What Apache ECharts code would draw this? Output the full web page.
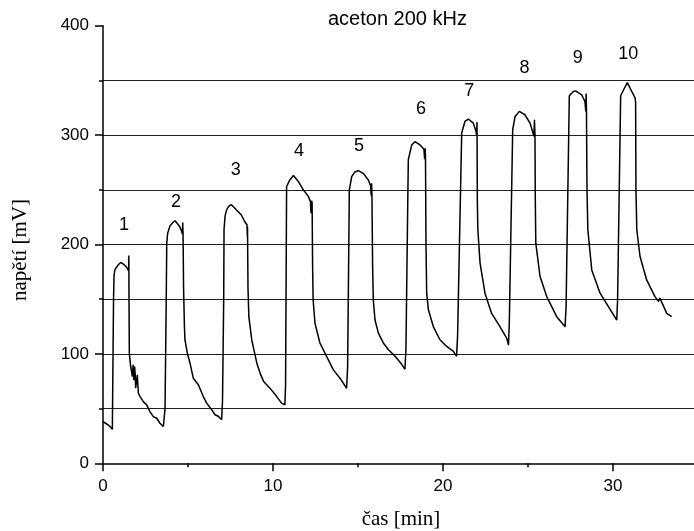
<!DOCTYPE html>
<html>
<head>
<meta charset="utf-8">
<title>aceton 200 kHz</title>
<script src="https://cdn.jsdelivr.net/npm/echarts@6/dist/echarts.min.js"></script>
<style>
  html, body { margin: 0; padding: 0; background: #fff; }
  #chart { width: 694px; height: 531px; }
</style>
</head>
<body>
<div id="chart"></div>
<script>
// Sensor voltage trace (time in minutes, voltage in mV)
const timeMin = [
  0.00, 0.06, 0.31, 0.45, 0.55, 0.58,
  0.62, 0.65, 0.70, 0.90, 1.04, 1.24, 1.40, 1.49, 1.51,
  1.52, 1.53, 1.55, 1.63, 1.73, 1.76, 1.78, 1.81, 1.86, 1.90, 1.92, 1.98, 2.02, 2.05, 2.08, 2.18, 2.37, 2.57, 2.76, 2.96, 3.16, 3.35, 3.55, 3.61,
  3.63, 3.65, 3.68,
  3.72, 3.75, 3.80, 3.94, 4.10, 4.24, 4.35, 4.49, 4.63, 4.67, 4.69, 4.71,
  4.74, 4.79, 4.82, 4.96, 5.12, 5.31, 5.45, 5.61, 5.90, 6.10, 6.39, 6.59, 6.78, 6.98, 7.02,
  7.03, 7.07,
  7.10, 7.12, 7.18, 7.27, 7.40, 7.55, 7.70, 7.84, 8.14, 8.33, 8.47, 8.49, 8.50,
  8.53, 8.58, 8.75, 9.05, 9.25, 9.45, 9.82, 10.22, 10.50, 10.70,
  10.72, 10.74, 10.76,
  10.80, 10.99, 11.20, 11.24, 11.49, 11.78, 12.08, 12.20, 12.24, 12.27, 12.30,
  12.33, 12.36, 12.47, 12.76, 13.16, 13.55, 13.94, 14.33,
  14.37, 14.39, 14.42,
  14.49, 14.63, 14.80, 15.02, 15.31, 15.61, 15.74, 15.78, 15.80, 15.82,
  15.86, 15.90, 16.00, 16.20, 16.49, 16.78, 17.18, 17.57, 17.76,
  17.80, 17.82, 17.86,
  17.92, 17.96, 18.16, 18.35, 18.65, 18.88, 18.92, 18.95, 18.97,
  19.00, 19.04, 19.14, 19.43, 19.82, 20.22, 20.61, 20.80,
  20.84, 20.86, 20.92,
  21.10, 21.29, 21.49, 21.59, 21.78, 21.88, 21.95, 21.98, 22.00,
  22.02, 22.05, 22.18, 22.47, 22.86, 23.35, 23.75, 23.85,
  23.88, 23.90, 23.95,
  24.10, 24.24, 24.49, 24.82, 25.12, 25.35, 25.38, 25.41,
  25.43, 25.46, 25.71, 26.10, 26.69, 27.18,
  27.21, 27.24, 27.30,
  27.43, 27.67, 27.80, 28.16, 28.35, 28.40, 28.42, 28.44,
  28.47, 28.52, 28.75, 29.24, 29.73, 30.22,
  30.25, 30.27, 30.35,
  30.45, 30.61, 30.84, 31.10, 31.30, 31.33,
  31.35, 31.40, 31.59, 31.98, 32.47, 32.67, 32.76, 32.86, 33.16, 33.45
];
const voltage = [
  38, 37.5, 35, 33, 31, 31,
  150, 172, 177, 181.5, 183.6, 181.5, 179, 177.5, 176,
  190, 150, 100, 88.4, 79.3, 88, 90, 76, 88.4, 80, 68.7, 70, 80.9, 72, 64, 61, 56.4, 53.4, 47.3, 42.7, 41.2, 36.6, 33.6, 32,
  32, 50, 50.5,
  150, 201, 210, 217, 220, 221.7, 220, 217, 212, 209.6, 220, 209,
  160, 125, 113, 100.6, 91.5, 77.8, 75, 71.8, 61, 55, 49, 44.4, 43, 39.8, 38,
  57, 58.3,
  150, 213.5, 226, 231.7, 235, 236.4, 234, 231.7, 227, 221, 218, 208, 216,
  160, 134, 112.8, 91.5, 82, 74.8, 68.7, 61, 55, 53.5,
  53, 71.8, 73,
  253, 259, 263, 263.8, 257.6, 250, 244, 239.4, 228.7, 240, 238,
  180, 149.5, 128, 110, 97.5, 85.4, 77.8, 68.6,
  68, 88.4, 89,
  250, 262, 266, 267.6, 265, 259, 253.7, 244.6, 256, 245,
  180, 149.4, 131, 119, 110, 104, 97.8, 90.5, 85.9,
  85, 104, 105,
  230, 277.5, 291, 294, 291, 287, 278, 288, 280,
  200, 155.5, 140.3, 125, 112.9, 106.8, 102.3, 97.8,
  96, 117.4, 118,
  302, 312.5, 314.7, 314, 311, 311, 303, 299, 312,
  240, 213.5, 183, 155.5, 137, 124.9, 114.3, 108,
  107, 128, 129,
  305, 317, 321.7, 318.6, 311, 299, 314, 300,
  240, 201, 170.7, 152.4, 134, 124.9,
  124, 143, 144,
  336, 339.8, 340.4, 336.8, 330.7, 321.7, 338, 322,
  250, 213.5, 176.8, 155.5, 143.3, 131,
  130, 149.4, 150,
  336, 341, 348, 340, 334, 330,
  250, 213.5, 189, 167.6, 152.4, 148, 151, 149.4, 137, 134
];

// Numbered exposure cycles and where their numbers sit
const cycleNames = ['1', '2', '3', '4', '5', '6', '7', '8', '9', '10'];
const cycleLabelTime = [1.24, 4.29, 7.81, 11.53, 15.06, 18.7, 21.55, 24.79, 27.92, 30.9];
const cycleLabelVolt = [218, 239, 268, 285, 290, 324, 340, 361, 370.5, 374.5];

const xTicks = { min: 0, max: 40, step: 10 };
const yTicks = { min: 0, max: 400, step: 100 };

const traceData = timeMin.map((t, i) => [t, voltage[i]]);
const cycleData = cycleNames.map((n, i) => [cycleLabelTime[i], cycleLabelVolt[i], n]);

const sans = 'Liberation Sans, Arial, sans-serif';
const serif = 'Liberation Serif, Times New Roman, serif';

const chart = echarts.init(document.getElementById('chart'), null, { renderer: 'canvas' });
chart.setOption({
  animation: false,
  backgroundColor: '#fff',
  title: {
    text: 'aceton 200 kHz',
    left: 328,
    top: 9,
    padding: 0,
    textStyle: { fontFamily: sans, fontSize: 20, fontWeight: 'normal', color: '#000' }
  },
  // the time axis runs on past the right edge of the page, so the plot is open there
  grid: { left: 103, width: 680, top: 25.7, height: 437.6, containLabel: false, outerBoundsMode: 'none' },
  xAxis: {
    type: 'value',
    min: xTicks.min, max: xTicks.max, interval: xTicks.step,
    axisLine: { show: true, lineStyle: { color: '#000', width: 1.5 } },
    axisTick: { show: true, length: 8, lineStyle: { color: '#000', width: 1.5 } },
    minorTick: { show: true, splitNumber: 2, length: 4, lineStyle: { color: '#000', width: 1.5 } },
    axisLabel: { margin: 15, fontSize: 17, fontFamily: sans, color: '#000' },
    splitLine: { show: false }
  },
  yAxis: {
    type: 'value',
    min: yTicks.min, max: yTicks.max, interval: yTicks.step,
    axisLine: { show: true, lineStyle: { color: '#000', width: 1.5 } },
    axisTick: { show: true, length: 8, lineStyle: { color: '#000', width: 1.5 } },
    minorTick: { show: true, splitNumber: 2, length: 4, lineStyle: { color: '#000', width: 1.5 } },
    axisLabel: { margin: 14, fontSize: 17, fontFamily: sans, color: '#000' },
    splitLine: { show: true, showMinLine: false, showMaxLine: false, lineStyle: { color: '#222', width: 1 } },
    minorSplitLine: { show: true, lineStyle: { color: '#222', width: 1 } }
  },
  graphic: [
    {
      type: 'text', x: 20, y: 250, rotation: Math.PI / 2,
      style: { text: 'napětí [mV]', font: '21px ' + serif, fill: '#000', align: 'center', verticalAlign: 'middle' }
    },
    {
      type: 'text', x: 401, y: 519,
      style: { text: 'čas [min]', font: '21px ' + serif, fill: '#000', align: 'center', verticalAlign: 'middle' }
    }
  ],
  series: [
    {
      type: 'line',
      data: traceData,
      showSymbol: false,
      symbol: 'none',
      lineStyle: { color: '#000', width: 1.5 },
      clip: true,
      z: 3
    },
    {
      type: 'scatter',
      data: cycleData,
      symbolSize: 0,
      itemStyle: { color: '#000', opacity: 1 },
      label: {
        show: true, position: 'inside',
        formatter: p => p.data[2],
        fontFamily: sans, fontSize: 18, color: '#000', opacity: 1
      },
      emphasis: { disabled: true },
      z: 4
    }
  ]
});
</script>
</body>
</html>
